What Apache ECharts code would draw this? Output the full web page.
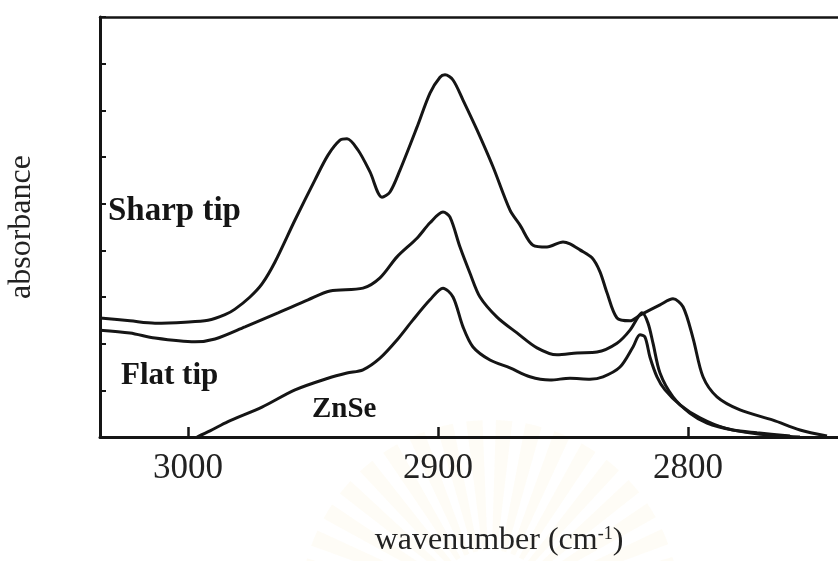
<!DOCTYPE html>
<html>
<head>
<meta charset="utf-8">
<title>absorbance spectra</title>
<script src="https://cdn.jsdelivr.net/npm/echarts@6/dist/echarts.min.js"></script>
<style>
  html, body { margin: 0; padding: 0; background: #ffffff; }
  #chart { width: 838px; height: 561px; }
</style>
</head>
<body>
<div id="chart"></div>
<script>
// C–H stretching region, wavenumber (cm-1) against absorbance (arb. units)
var xTicks = [3000, 2900, 2800];

var sharpWn = [3035.2, 3023.2, 3013.2, 3001.2, 2992.0, 2985.2, 2981.2, 2975.2, 2970.4, 2965.2,
  2957.2, 2949.2, 2944.0, 2939.2, 2936.4, 2932.0, 2927.2, 2922.4, 2919.2, 2915.2,
  2908.4, 2903.2, 2899.2, 2897.2, 2894.0, 2890.0, 2884.4, 2878.0, 2871.2, 2867.2,
  2862.0, 2856.4, 2850.0, 2847.2, 2843.2, 2838.4, 2835.2, 2832.4, 2828.4, 2823.2,
  2819.2, 2811.2, 2806.0, 2802.0, 2798.0, 2794.0, 2788.4, 2779.2, 2766.0, 2755.2, 2744.4];
var sharpAbs = [2.55, 2.49, 2.44, 2.46, 2.50, 2.62, 2.74, 3.00, 3.28, 3.75,
  4.65, 5.51, 6.04, 6.36, 6.39, 6.15, 5.68, 5.14, 5.25, 5.72,
  6.64, 7.37, 7.71, 7.76, 7.65, 7.22, 6.58, 5.79, 4.86, 4.54,
  4.11, 4.07, 4.18, 4.14, 4.01, 3.84, 3.54, 3.09, 2.55, 2.49,
  2.61, 2.83, 2.96, 2.79, 2.12, 1.29, 0.86, 0.58, 0.36, 0.15, 0.02];

var flatWn = [3035.2, 3023.2, 3013.2, 2997.2, 2989.2, 2977.2, 2964.0, 2952.0, 2943.2, 2930.0,
  2923.2, 2916.4, 2908.4, 2903.2, 2898.0, 2895.2, 2891.2, 2887.2, 2883.2, 2876.4,
  2868.4, 2860.4, 2852.4, 2844.4, 2836.4, 2828.4, 2823.2, 2820.0, 2818.4, 2816.0,
  2814.0, 2811.2, 2806.0, 2799.2, 2792.4, 2782.0, 2772.4, 2759.2];
var flatAbs = [2.29, 2.23, 2.12, 2.04, 2.10, 2.36, 2.66, 2.94, 3.13, 3.19,
  3.41, 3.86, 4.26, 4.59, 4.82, 4.71, 4.07, 3.51, 3.00, 2.57,
  2.23, 1.91, 1.76, 1.80, 1.82, 2.01, 2.29, 2.57, 2.66, 2.44,
  2.01, 1.37, 0.86, 0.51, 0.30, 0.15, 0.09, 0.02];

var znseWn = [2996.4, 2991.2, 2984.0, 2970.4, 2957.2, 2944.0, 2936.4, 2930.0, 2923.2, 2916.4,
  2910.0, 2903.2, 2898.0, 2894.0, 2890.0, 2886.0, 2879.2, 2871.2, 2863.2, 2855.2,
  2847.2, 2839.2, 2834.0, 2827.2, 2822.0, 2819.2, 2817.2, 2815.2, 2812.4, 2809.2,
  2803.2, 2795.2, 2785.2, 2771.2, 2755.2];
var znseAbs = [0.00, 0.13, 0.33, 0.64, 1.01, 1.26, 1.37, 1.44, 1.69, 2.08,
  2.51, 2.94, 3.19, 3.00, 2.36, 1.93, 1.65, 1.48, 1.29, 1.22,
  1.26, 1.24, 1.29, 1.50, 1.93, 2.19, 2.14, 1.71, 1.29, 1.01,
  0.69, 0.41, 0.19, 0.06, 0.00];

function pairs(xs, ys) {
  return xs.map(function (x, i) { return [x, ys[i]]; });
}

var INK = '#151515';
var TEXT = '#222222';
var SERIF = '"Liberation Serif", "Times New Roman", serif';

function curve(name, xs, ys) {
  return {
    name: name,
    type: 'line',
    xAxisIndex: 0,
    data: pairs(xs, ys),
    showSymbol: false,
    smooth: 0.3,
    lineStyle: { color: INK, width: 3 },
    silent: true
  };
}

function tag(text, left, top, size) {
  return {
    type: 'text',
    left: left,
    top: top,
    z: 10,
    style: {
      text: text,
      fill: INK,
      font: 'bold ' + size + 'px ' + SERIF
    }
  };
}

// faint sunburst emblem printed behind the axis title
function sunburstRays() {
  var rays = [];
  var n = 20;
  for (var i = 0; i < n; i++) {
    var a0 = Math.PI + (i + 0.2) * Math.PI / n;
    rays.push({
      type: 'sector',
      silent: true,
      z: -10,
      shape: { cx: 490, cy: 610, r0: 60, r: 190, startAngle: a0, endAngle: a0 + 0.55 * Math.PI / n },
      style: { fill: 'rgba(246, 226, 170, 0.11)' }
    });
  }
  return rays;
}

var chart = echarts.init(document.getElementById('chart'), null, { renderer: 'canvas' });
chart.setOption({
  animation: false,
  backgroundColor: '#ffffff',
  grid: { left: 100, right: 0, top: 17, bottom: 124, show: false, outerBoundsMode: 'none', containLabel: false },
  xAxis: [{
    type: 'value',
    inverse: true,
    min: 2740,
    max: 3035.2,
    name: '{t|wavenumber (cm}{s|-1}{t|)}',
    nameLocation: 'middle',
    nameGap: 88,
    nameTextStyle: {
      padding: [0, 0, 0, 60],
      rich: {
        t: { fontFamily: SERIF, fontSize: 32, color: TEXT },
        s: { fontFamily: SERIF, fontSize: 18, color: TEXT, verticalAlign: 'top', padding: [0, 0, 12, 0] }
      }
    },
    axisLine: { show: true, lineStyle: { color: INK, width: 3 } },
    axisTick: { show: true, inside: true, length: 10, customValues: xTicks, lineStyle: { color: INK, width: 2.5 } },
    axisLabel: {
      customValues: xTicks,
      margin: 14,
      fontFamily: SERIF,
      fontSize: 35,
      color: TEXT,
      formatter: function (v) { return String(v); }
    },
    splitLine: { show: false }
  }, {
    // frame line along the top of the plot
    type: 'value',
    position: 'top',
    inverse: true,
    min: 2740,
    max: 3035.2,
    axisLine: { show: true, lineStyle: { color: INK, width: 2.5 } },
    axisTick: { show: false },
    axisLabel: { show: false },
    splitLine: { show: false }
  }],
  yAxis: {
    type: 'value',
    min: 0,
    max: 9,
    interval: 1,
    name: 'absorbance',
    nameLocation: 'middle',
    nameGap: 62,
    nameTextStyle: { fontFamily: SERIF, fontSize: 32, color: TEXT },
    axisLine: { show: true, lineStyle: { color: INK, width: 3 } },
    axisTick: { show: true, inside: true, length: 6, lineStyle: { color: INK, width: 2 } },
    axisLabel: { show: false },
    splitLine: { show: false }
  },
  series: [
    curve('Sharp tip', sharpWn, sharpAbs),
    curve('Flat tip', flatWn, flatAbs),
    curve('ZnSe', znseWn, znseAbs)
  ],
  graphic: sunburstRays().concat([
    tag('Sharp tip', 108, 195, 33),
    tag('Flat tip', 121, 360, 31),
    tag('ZnSe', 312, 395, 29)
  ])
});
</script>
</body>
</html>
